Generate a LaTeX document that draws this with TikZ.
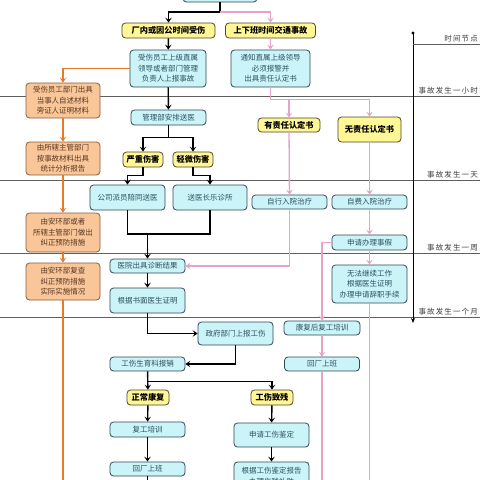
\documentclass[tikz,border=0pt]{standalone}
\usepackage{fontspec}
\newfontfamily\cjk{Noto Sans CJK SC}
\newfontfamily\cjksp[LetterSpace=15]{Noto Sans CJK SC}
\usetikzlibrary{arrows.meta}
\definecolor{cfill}{RGB}{202,244,248}
\definecolor{cdraw}{RGB}{50,72,82}
\definecolor{ctext}{RGB}{45,80,95}
\definecolor{yfill}{RGB}{255,246,150}
\definecolor{ydraw}{RGB}{80,70,40}
\definecolor{ofill}{RGB}{248,198,152}
\definecolor{odraw}{RGB}{140,92,60}
\definecolor{oline}{RGB}{230,122,40}
\definecolor{pline}{RGB}{232,162,202}
\definecolor{gline}{RGB}{95,95,95}
\tikzset{
  basebox/.style={rounded corners=3.5pt, line width=0.8pt, align=center, inner sep=0pt},
  cbox/.style={basebox, draw=cdraw, fill=cfill, text=ctext, font=\cjk\fontsize{7.5}{10.5}\selectfont},
  ybox/.style={basebox, draw=ydraw, fill=yfill, text=black, font=\cjk\bfseries\fontsize{8.2}{10}\selectfont},
  obox/.style={basebox, draw=odraw, fill=ofill, text={rgb,255:red,90;green,55;blue,35}, font=\cjk\fontsize{7.5}{10.5}\selectfont},
  arr/.style={-{Stealth[length=5pt,width=6.5pt,inset=2.2pt]}},
  blk/.style={line width=1.4pt, black},
  pnk/.style={line width=1.3pt, pline},
  org/.style={line width=1.3pt, oline},
  sepline/.style={line width=0.7pt, gline},
  tlabel/.style={anchor=south east, inner sep=0pt, text={rgb,255:red,60;green,60;blue,60}, font=\cjksp\fontsize{7.5}{9}\selectfont},
}
\begin{document}
\begin{tikzpicture}[x=1pt,y=-1pt]
\useasboundingbox[fill=white] (0,0) rectangle (480,480);
% time separator lines
\draw[sepline] (0,96) -- (480,96);
\draw[sepline] (0,180) -- (480,180);
\draw[sepline] (0,253) -- (480,253);
\draw[sepline] (0,317) -- (480,317);
% timeline
\coordinate (tl0) at (413,33);
\coordinate (tl1) at (413,323);
\fill (tl0) circle (1.6pt);
\draw[line width=0.8pt, -{Stealth[length=5pt,width=4pt]}] (tl0) -- (tl1);
\draw[sepline] (413,44) -- (480,44);
\node[tlabel] (l0) at (478,42) {时间节点};
\node[tlabel] (l1) at (478,94) {事故发生一小时};
\node[tlabel] (l2) at (478,178) {事故发生一天};
\node[tlabel] (l3) at (478,251) {事故发生一周};
\node[tlabel] (l4) at (478,315) {事故发生一个月};

% nodes
\node[cbox, minimum width=74, minimum height=22] (top) at (220,-9) {};
\node[ybox, minimum width=93, minimum height=15] (y1) at (168.5,30.5) {厂内或因公时间受伤};
\node[ybox, minimum width=90, minimum height=15] (y2) at (270.5,30.5) {上下班时间交通事故};
\node[cbox, minimum width=76, minimum height=37] (c1) at (168,68.5) {受伤员工上级直属\\领导或者部门管理\\负责人上报事故};
\node[cbox, minimum width=79, minimum height=37] (c2) at (270.5,68.5) {通知直属上级领导\\必须报警并\\出具责任认定书};
\node[obox, minimum width=74, minimum height=35] (o1) at (63,100.5) {受伤员工部门出具\\当事人自述材料\\旁证人证明材料};
\node[cbox, minimum width=75, minimum height=15] (c3) at (168.5,117.5) {管理部安排送医};
\node[ybox, minimum width=40, minimum height=15] (y3) at (143,159.5) {严重伤害};
\node[ybox, minimum width=40, minimum height=15] (y4) at (193,159.5) {轻微伤害};
\node[ybox, minimum width=62, minimum height=14] (y5) at (289,125) {有责任认定书};
\node[ybox, minimum width=63, minimum height=25] (y6) at (369.5,129.5) {无责任认定书};
\node[cbox, minimum width=75, minimum height=25] (c4) at (127.5,197.5) {公司派员陪同送医};
\node[cbox, minimum width=74, minimum height=25] (c5) at (210,197.5) {送医长乐诊所};
\node[cbox, minimum width=75, minimum height=14] (c7) at (289.5,202) {自行入院治疗};
\node[cbox, minimum width=75, minimum height=14] (c8) at (369.5,202) {自费入院治疗};
\node[obox, minimum width=74, minimum height=33] (o2) at (63,158.5) {由所辖主管部门\\按事故材料出具\\统计分析报告};
\node[obox, minimum width=74, minimum height=39] (o3) at (63,232.5) {由安环部或者\\所辖主管部门做出\\纠正预防措施};
\node[cbox, minimum width=75, minimum height=14] (c6) at (147.5,266) {医院出具诊断结果};
\node[cbox, minimum width=75, minimum height=15] (c9) at (369.5,242.5) {申请办理事假};
\node[cbox, minimum width=75, minimum height=38] (c10) at (369.5,284) {无法继续工作\\根据医生证明\\办理申请辞职手续};
\node[obox, minimum width=74, minimum height=37] (o4) at (63,281.5) {由安环部复查\\纠正预防措施\\实际实施情况};
\node[cbox, minimum width=75, minimum height=25] (c13) at (147.5,300.5) {根据书面医生证明};
\node[cbox, minimum width=75, minimum height=23] (c14) at (235.5,333.5) {政府部门上报工伤};
\node[cbox, minimum width=76, minimum height=14] (c11) at (322,328) {康复后复工培训};
\node[cbox, minimum width=75, minimum height=14] (c12) at (322,364) {回厂上班};
\node[cbox, minimum width=75, minimum height=14] (c15) at (147.5,364) {工伤生育科报销};
\node[ybox, minimum width=42, minimum height=15] (y7) at (148,397.5) {正常康复};
\node[ybox, minimum width=42, minimum height=15] (y8) at (272,397.5) {工伤致残};
\node[cbox, minimum width=75, minimum height=15] (c16) at (147.5,429.5) {复工培训};
\node[cbox, minimum width=75, minimum height=14] (c17) at (147.5,469) {回厂上班};
\node[cbox, minimum width=75, minimum height=24] (c18) at (271.5,435) {申请工伤鉴定};
\node[cbox, minimum width=75, minimum height=28] (c19) at (271.5,476) {根据工伤鉴定报告\\办理伤残补助};

% black connectors
\coordinate (j0) at (220,12);
\draw[blk] (top.south) -- (j0);
\draw[blk,arr] (j0) -| (y1.north);
\draw[blk,arr] (y1) -- (c1);
\draw[blk,arr] (c1) -- (c3);
\draw[blk,arr] (c3.south) -- ++(0,12) -| (y3.north);
\draw[blk,arr] (c3.south) ++(0,12) -| (y4.north);
\draw[blk,arr] (y3.south) -- ++(0,8) -| (c4.north);
\draw[blk,arr] (y4.south) -- ++(0,8) -| (c5.north);
\coordinate (j1) at (147.5,234);
\draw[blk] (c4.south) |- (j1) -| (c5.south);
\draw[blk,arr] (j1) -- (c6.north);
\draw[blk,arr] (c6) -- (c13);
\draw[blk,arr] (c13.south) |- (c14.west);
\draw[blk,arr] (c14.south) |- (c15.east);
\draw[blk,arr] (c15) -- (y7);
\draw[blk,arr] (c15.south) ++(0,10) -| (y8.north);
\draw[blk,arr] (y7) -- (c16);
\draw[blk,arr] (c16) -- (c17);
\draw[blk,arr] (y8) -- (c18);
\draw[blk,arr] (c18) -- (c19);
\coordinate (j3) at (147.5,481);
\draw[blk] (c17.south) -- (j3) -- (j3 -| c19.west);

% pink connectors
\draw[pnk,arr] (j0) -| (y2.north);
\draw[pnk,arr] (y2) -- (c2);
\draw[pnk,arr] (c2.south) -- ++(0,12) -| (y6.north);
\draw[pnk,arr] (c2.south) ++(0,12) -| (y5.north);
\draw[pnk,arr] (y5) -- (c7);
\draw[pnk,arr] (y6) -- (c8);
\draw[pnk,arr] (c7.south) |- (c6.east);
\draw[pnk,arr] (c8) -- (c9);
\draw[pnk,arr] (c9) -- (c10);
\draw[pnk,arr] (c9.west) -| (c11.north);
\draw[pnk,arr] (c11) -- (c12);
\coordinate (p1) at (369.5,485);
\coordinate (p2) at (322,485);
\draw[pnk] (c10.south) -- (p1);
\draw[pnk] (c12.south) -- (p2);

% orange connectors
\draw[org,arr] (c1.west) -| (o1.north);
\draw[org,arr] (o1) -- (o2);
\draw[org,arr] (o2) -- (o3);
\draw[org,arr] (o3) -- (o4);
\coordinate (q1) at (63,485);
\draw[org] (o4.south) -- (q1);
\end{tikzpicture}
\end{document}
